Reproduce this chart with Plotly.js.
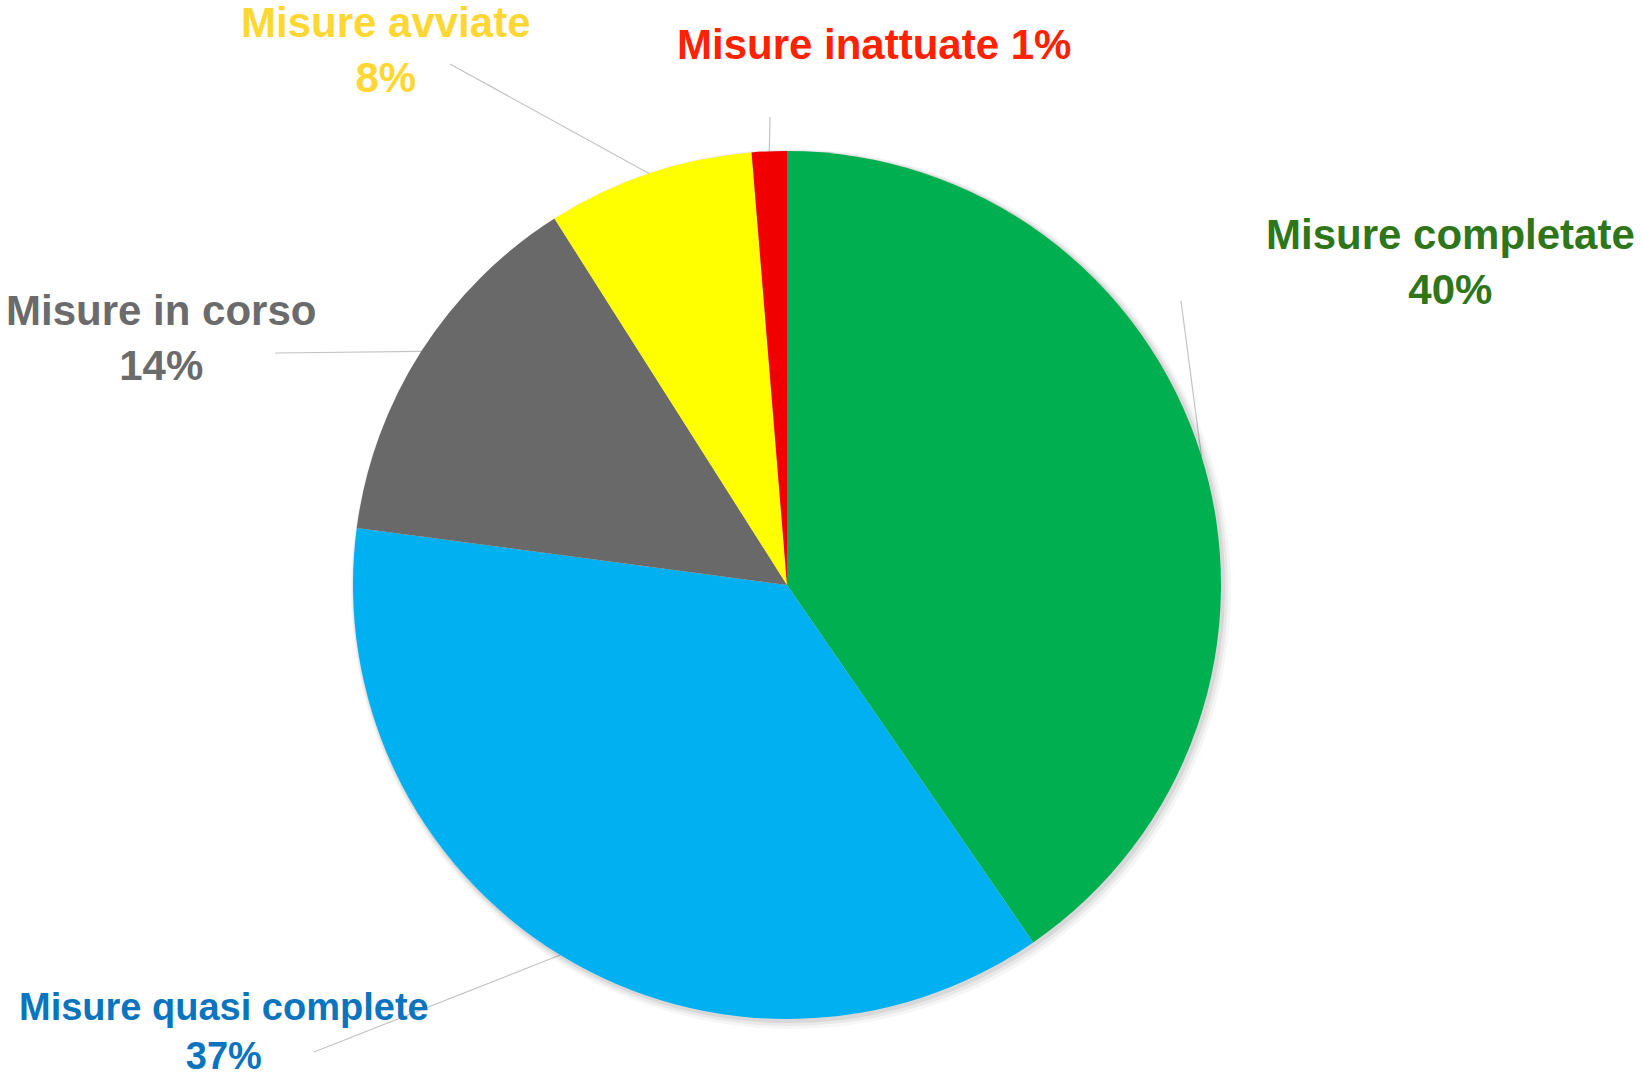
<!DOCTYPE html>
<html><head><meta charset="utf-8">
<script src="https://cdn.plot.ly/plotly-3.0.1.min.js"></script>
<style>html,body{margin:0;padding:0;background:#fff;overflow:hidden}#chart{width:1642px;height:1080px}</style>
</head><body><div id="chart"></div>
<script>
// ---- data ----
const categories = ["Misure completate", "Misure quasi complete", "Misure in corso", "Misure avviate", "Misure inattuate"];
const shares = [40.4, 36.7, 13.9, 7.7, 1.3];
const sliceColors = ["#00B050", "#00B0F0", "#696969", "#FFFF00", "#F00000"];
const labelColors = ["#2F761A", "#0B74BF", "#6B6B6B", "#FFD732", "#FF2200"];

// ---- layout helpers (pixel positions of labels and leader-line tails) ----
const W = 1642, H = 1080;
const pieCx = 787, pieCy = 585, pieR = 434;
const labelPos = [[1450, 262], [224, 1031], [161, 338], [386, 50], [874, 44]];
const labelSize = [42, 38, 42, 42, 42];
const lineTails = [[1181, 301], [314, 1052], [275, 353], [450, 64], [770, 117]];
const singleLine = [false, false, false, false, true];

const px2x = p => p / W;
const py2y = p => 1 - p / H;
function domainFor(cx, cy, r) {
  return { x: [px2x(cx - r), px2x(cx + r)], y: [py2y(cy + r), py2y(cy - r)] };
}

const total = shares.reduce((a, b) => a + b, 0);
const pctText = shares.map(v => Math.round(v / total * 100) + '%');

// mid-angle of each slice (clockwise from 12 o'clock)
let cum = 0;
const midAngles = shares.map(v => { const a = (cum + v / 2) / total * 2 * Math.PI; cum += v; return a; });

const traces = [];
// soft shadow layers
[[6, 4, 0.035], [4, 3, 0.05], [2, 2, 0.07]].forEach(([grow, off, alpha]) => {
  traces.push({
    type: 'pie', values: shares, labels: categories, sort: false, direction: 'clockwise', rotation: 0,
    marker: { colors: shares.map(() => 'rgba(0,0,0,' + alpha + ')') },
    textinfo: 'none', hoverinfo: 'skip', showlegend: false,
    domain: domainFor(pieCx + off, pieCy + off, pieR + grow)
  });
});
traces.push({
  type: 'pie', values: shares, labels: categories, sort: false, direction: 'clockwise', rotation: 0,
  marker: { colors: sliceColors, line: { width: 0 } },
  textinfo: 'none', hoverinfo: 'label+percent', showlegend: false,
  domain: domainFor(pieCx, pieCy, pieR)
});

const annotations = categories.map((c, i) => ({
  xref: 'paper', yref: 'paper', x: px2x(labelPos[i][0]), y: py2y(labelPos[i][1]),
  xanchor: 'center', yanchor: 'middle', showarrow: false, align: 'center',
  text: singleLine[i] ? c + ' ' + pctText[i] : c + '<br>' + pctText[i],
  font: { family: 'Liberation Sans, Arial, sans-serif', size: labelSize[i], weight: 'bold', color: labelColors[i] }
}));

const shapes = categories.map((c, i) => {
  const hx = pieCx + pieR * Math.sin(midAngles[i]);
  const hy = pieCy - pieR * Math.cos(midAngles[i]);
  return {
    type: 'line', xref: 'paper', yref: 'paper', layer: 'below',
    x0: px2x(lineTails[i][0]), y0: py2y(lineTails[i][1]), x1: px2x(hx), y1: py2y(hy),
    line: { color: '#C4C4C4', width: 1.2 }
  };
});

Plotly.newPlot('chart', traces, {
  width: W, height: H, margin: { l: 0, r: 0, t: 0, b: 0 },
  paper_bgcolor: '#ffffff', plot_bgcolor: '#ffffff',
  showlegend: false, annotations: annotations, shapes: shapes
}, { displayModeBar: false, staticPlot: true });
</script></body></html>
